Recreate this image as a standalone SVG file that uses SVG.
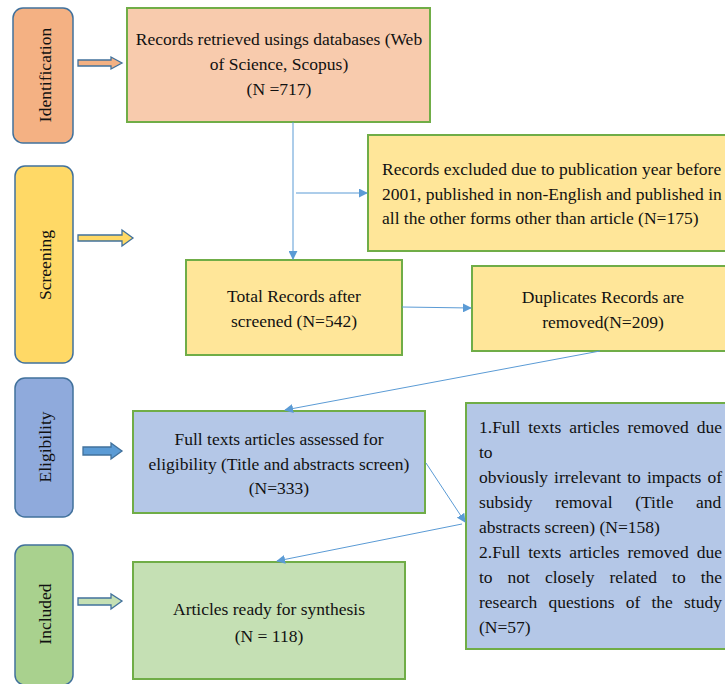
<svg xmlns="http://www.w3.org/2000/svg" width="725" height="684" viewBox="0 0 725 684">
<defs>
<marker id="ah" viewBox="0 0 10 10" refX="9" refY="5" markerWidth="9" markerHeight="9" markerUnits="userSpaceOnUse" orient="auto">
<path d="M0,0 L10,5 L0,10 z" fill="#5B9BD5"/>
</marker>
<style>
text{font-family:"Liberation Serif","Times New Roman",serif;font-size:17.5px;fill:#111;}
.c{text-anchor:middle;}
.stage{stroke:#41719C;stroke-width:1.5;}
.box{stroke:#70AD47;stroke-width:2;}
.conn{stroke:#5B9BD5;stroke-width:1;fill:none;}
.blk{stroke:#41719C;stroke-width:1.3;}
</style>
</defs>
<rect width="725" height="684" fill="#fff"/>

<g id="stage-identification">
<rect class="stage" x="13" y="8" width="60" height="135" rx="10" fill="#F4B183"/>
<text class="c" transform="translate(51,75) rotate(-90)">Identification</text>
<path class="blk" d="M78,60 H111 V57 L122,63 L111,69 V66 H78 Z" fill="#F4B183"/>
</g>
<g id="stage-screening">
<rect class="stage" x="15" y="166" width="58" height="197" rx="10" fill="#FFD966"/>
<text class="c" transform="translate(51,265) rotate(-90)">Screening</text>
<path class="blk" d="M78,235 H122 V230 L133,238 L122,246 V241 H78 Z" fill="#FFD966"/>
</g>
<g id="stage-eligibility">
<rect class="stage" x="15" y="378" width="58" height="139" rx="10" fill="#8FAADC"/>
<text class="c" transform="translate(51,447) rotate(-90)">Eligibility</text>
<path class="blk" d="M83,447 H111 V443 L122,451 L111,459 V455 H83 Z" fill="#5B9BD5"/>
</g>
<g id="stage-included">
<rect class="stage" x="15" y="545" width="58" height="140" rx="10" fill="#A9D18E"/>
<text class="c" transform="translate(51,614) rotate(-90)">Included</text>
<path class="blk" d="M78,598 H111 V594 L122,601 L111,609 V605 H78 Z" fill="#C5E0B4"/>
</g>

<g id="records-retrieved">
<rect class="box" x="127" y="8" width="303" height="114" fill="#F8CBAD"/>
<text class="c" x="279" y="45">Records retrieved usings databases (Web</text>
<text class="c" x="279" y="70">of Science, Scopus)</text>
<text class="c" x="279" y="95">(N =717)</text>
</g>
<g id="records-excluded">
<rect class="box" x="368" y="135" width="362" height="116" fill="#FFE699"/>
<text x="382" y="175">Records excluded due to publication year before</text>
<text x="382" y="200">2001, published in non-English and published in</text>
<text x="382" y="224">all the other forms other than article (N=175)</text>
</g>
<g id="total-records">
<rect class="box" x="186" y="260" width="216" height="95" fill="#FFE699"/>
<text class="c" x="294" y="302">Total Records after</text>
<text class="c" x="294" y="327">screened (N=542)</text>
</g>
<g id="duplicates">
<rect class="box" x="472" y="266" width="258" height="85" fill="#FFE699"/>
<text class="c" x="603" y="303">Duplicates Records are</text>
<text class="c" x="603" y="328">removed(N=209)</text>
</g>
<g id="full-texts">
<rect class="box" x="133" y="411" width="292" height="102" fill="#B4C7E7"/>
<text class="c" x="279" y="445">Full texts articles assessed for</text>
<text class="c" x="279" y="470">eligibility (Title and abstracts screen)</text>
<text class="c" x="279" y="494">(N=333)</text>
</g>
<g id="removed">
<rect class="box" x="466" y="403" width="264" height="246" fill="#B4C7E7"/>
<text x="479" y="433" word-spacing="3.5">1.Full texts articles removed due</text>
<text x="479" y="458">to</text>
<text x="479" y="483" word-spacing="1.7">obviously irrelevant to impacts of</text>
<text x="479" y="508" word-spacing="18.3">subsidy removal (Title and</text>
<text x="479" y="533">abstracts screen) (N=158)</text>
<text x="479" y="558" word-spacing="3.5">2.Full texts articles removed due</text>
<text x="479" y="583" word-spacing="10.6">to not closely related to the</text>
<text x="479" y="608" word-spacing="6.8">research questions of the study</text>
<text x="479" y="633">(N=57)</text>
</g>
<g id="articles-ready">
<rect class="box" x="133" y="562" width="272" height="117" fill="#C5E0B4"/>
<text class="c" x="269" y="615">Articles ready for synthesis</text>
<text class="c" x="269" y="642">(N = 118)</text>
</g>

<g id="connectors">
<line class="conn" x1="293" y1="122" x2="293" y2="259" marker-end="url(#ah)"/>
<line class="conn" x1="296" y1="193" x2="367" y2="193" marker-end="url(#ah)"/>
<line class="conn" x1="402" y1="307" x2="471" y2="308" marker-end="url(#ah)"/>
<line class="conn" x1="600" y1="351" x2="285" y2="410" marker-end="url(#ah)"/>
<line class="conn" x1="426" y1="463" x2="465" y2="522" marker-end="url(#ah)"/>
<line class="conn" x1="462" y1="524" x2="277" y2="561" marker-end="url(#ah)"/>
</g>
</svg>
